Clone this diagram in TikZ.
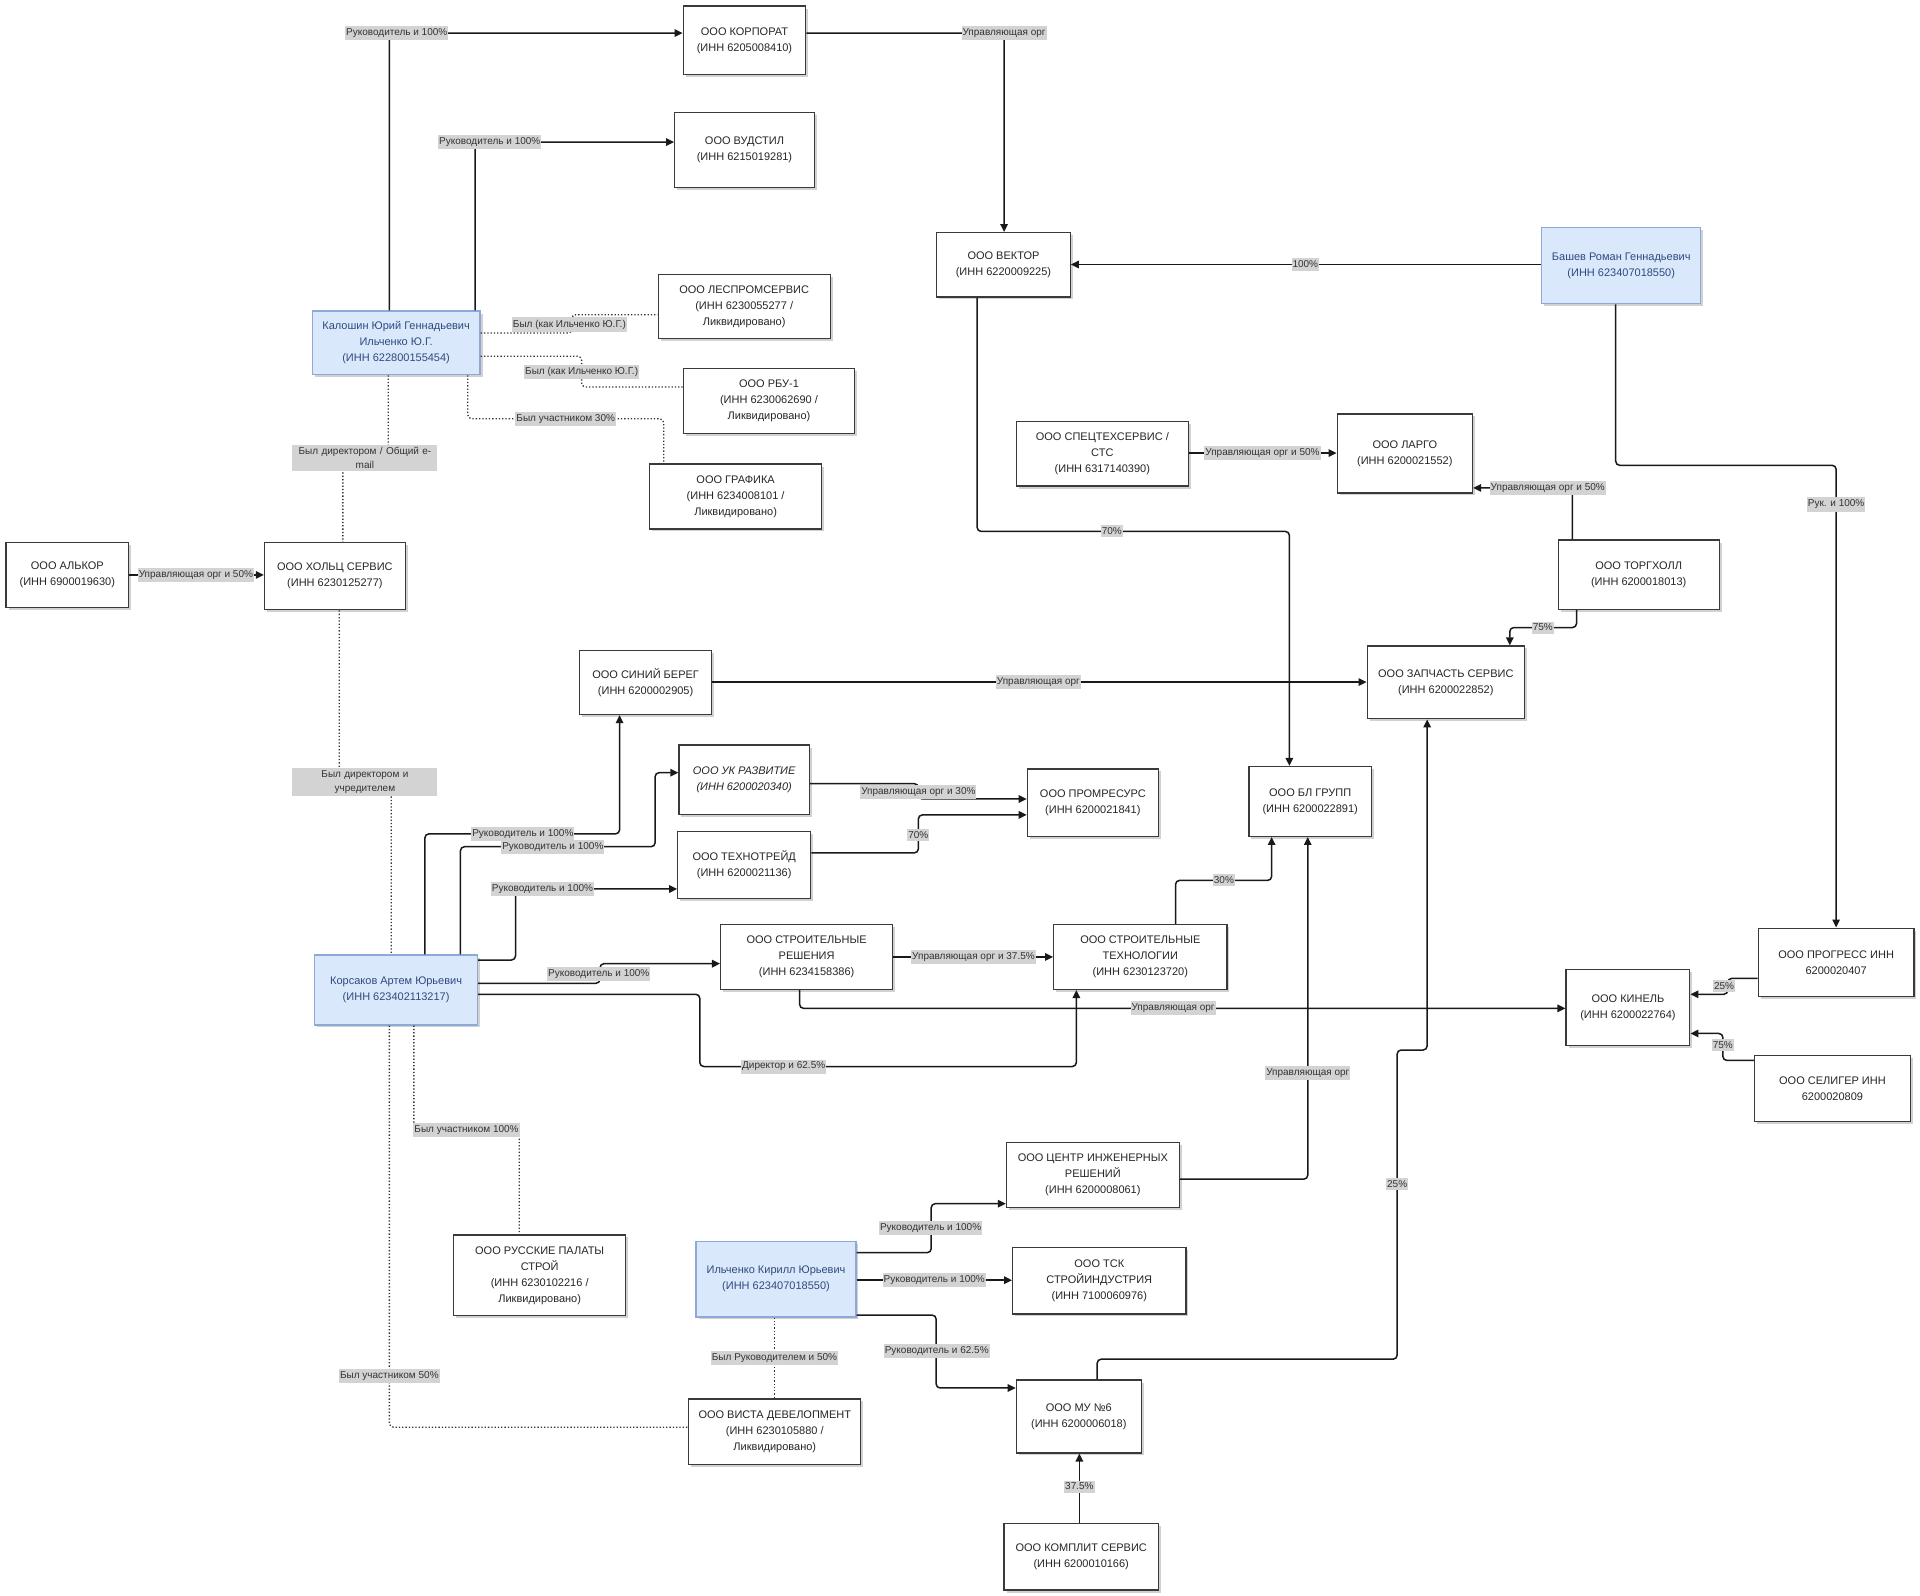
\documentclass[tikz,border=0pt]{standalone}
\usepackage{fontspec}
\setmainfont{Liberation Sans}
\usetikzlibrary{arrows.meta,shadows}
\definecolor{bord}{HTML}{3A3A3A}
\definecolor{pfill}{HTML}{DAE8FC}
\definecolor{pdraw}{HTML}{8EA9D6}
\definecolor{ptext}{HTML}{2E4A7D}
\definecolor{lblg}{HTML}{D3D3D3}
\def\sc{1.2245pt}
\newcommand\orgnode[7][org]{\node[#1, minimum width={(#5-#3)*\sc}, minimum height={(#6-#4)*\sc}] (#2) at ({(#3+#5)/2},{(#4+#6)/2}) {#7};}
\tikzset{
 org/.style={draw=bord, fill=white, line width=1.3pt, align=center, font=\fontsize{11}{16}\selectfont, text=black!85, inner sep=2pt, drop shadow={shadow xshift=2.5pt, shadow yshift=-2.5pt, opacity=0.18, fill=black}},
 orgit/.style={org, font=\fontsize{11}{16}\selectfont\itshape},
 person/.style={org, fill=pfill, draw=pdraw, text=ptext},
 con/.style={draw=black!90, line width=1.5pt, rounded corners=4pt, -{Triangle[length=8pt,width=7.5pt]}},
 dotl/.style={draw=black!80, line width=1.3pt, dotted, rounded corners=4pt},
 lbl/.style={fill=lblg, text=black!80, font=\fontsize{10}{14}\selectfont, inner xsep=1pt, inner ysep=2.5pt, align=center},
}
\begin{document}
\begin{tikzpicture}[x=1.2245pt, y=-1.2245pt]
\useasboundingbox (0,0) rectangle (1568,1303.4);
\fill[white] (0,0) rectangle (1568,1303.4);
% nodes
\orgnode{korp}{558}{5}{658}{61}{ООО КОРПОРАТ\\(ИНН 6205008410)}
\orgnode{vud}{551}{92}{665}{153}{ООО ВУДСТИЛ\\(ИНН 6215019281)}
\orgnode{vec}{765}{190}{874}{242.5}{ООО ВЕКТОР\\(ИНН 6220009225)}
\orgnode[person]{bash}{1259}{186}{1389}{248}{Башев Роман Геннадьевич\\(ИНН 623407018550)}
\orgnode{les}{537.5}{224}{678}{276.5}{ООО ЛЕСПРОМСЕРВИС\\(ИНН 6230055277 /\\Ликвидировано)}
\orgnode[person]{kal}{255}{254}{392}{306}{Калошин Юрий Геннадьевич\\Ильченко Ю.Г.\\(ИНН 622800155454)}
\orgnode{rbu}{558}{301}{698}{354}{ООО РБУ-1\\(ИНН 6230062690 /\\Ликвидировано)}
\orgnode{graf}{530.5}{379}{671}{432}{ООО ГРАФИКА\\(ИНН 6234008101 /\\Ликвидировано)}
\orgnode{spec}{830}{344}{970.5}{397}{ООО СПЕЦТЕХСЕРВИС /\\СТС\\(ИНН 6317140390)}
\orgnode{lar}{1092}{338}{1202.5}{402.5}{ООО ЛАРГО\\(ИНН 6200021552)}
\orgnode{torg}{1272.5}{441}{1404}{497.5}{ООО ТОРГХОЛЛ\\(ИНН 6200018013)}
\orgnode{alk}{5}{443}{105}{496}{ООО АЛЬКОР\\(ИНН 6900019630)}
\orgnode{holz}{216}{443}{331}{498}{ООО ХОЛЬЦ СЕРВИС\\(ИНН 6230125277)}
\orgnode{sin}{473.5}{531}{581}{583.5}{ООО СИНИЙ БЕРЕГ\\(ИНН 6200002905)}
\orgnode{zap}{1116.5}{527.5}{1245}{587}{ООО ЗАПЧАСТЬ СЕРВИС\\(ИНН 6200022852)}
\orgnode[orgit]{uk}{554.5}{608.5}{661}{665}{ООО УК РАЗВИТИЕ\\(ИНН 6200020340)}
\orgnode{prom}{839}{628}{946}{683}{ООО ПРОМРЕСУРС\\(ИНН 6200021841)}
\orgnode{bl}{1020}{626}{1120}{683}{ООО БЛ ГРУПП\\(ИНН 6200022891)}
\orgnode{tech}{553.5}{679}{662}{734}{ООО ТЕХНОТРЕЙД\\(ИНН 6200021136)}
\orgnode{sr}{588.5}{755}{729}{808}{ООО СТРОИТЕЛЬНЫЕ\\РЕШЕНИЯ\\(ИНН 6234158386)}
\orgnode{st}{860.5}{755}{1002}{808}{ООО СТРОИТЕЛЬНЫЕ\\ТЕХНОЛОГИИ\\(ИНН 6230123720)}
\orgnode[person]{kors}{257}{780}{390}{837}{Корсаков Артем Юрьевич\\(ИНН 623402113217)}
\orgnode{prog}{1436}{758}{1563}{814}{ООО ПРОГРЕСС ИНН\\6200020407}
\orgnode{kin}{1279}{792}{1380}{854}{ООО КИНЕЛЬ\\(ИНН 6200022764)}
\orgnode{sel}{1433}{862}{1560}{916}{ООО СЕЛИГЕР ИНН\\6200020809}
\orgnode{cen}{822}{933}{963}{986}{ООО ЦЕНТР ИНЖЕНЕРНЫХ\\РЕШЕНИЙ\\(ИНН 6200008061)}
\orgnode{rp}{370.5}{1008.5}{511}{1074.5}{ООО РУССКИЕ ПАЛАТЫ\\СТРОЙ\\(ИНН 6230102216 /\\Ликвидировано)}
\orgnode[person]{ik}{568.5}{1014}{699}{1075.5}{Ильченко Кирилл Юрьевич\\(ИНН 623407018550)}
\orgnode{tsk}{827}{1019}{968.5}{1073}{ООО ТСК\\СТРОЙИНДУСТРИЯ\\(ИНН 7100060976)}
\orgnode{vis}{562.5}{1142.5}{703}{1196}{ООО ВИСТА ДЕВЕЛОПМЕНТ\\(ИНН 6230105880 /\\Ликвидировано)}
\orgnode{mu}{830}{1127}{932}{1186.5}{ООО МУ №6\\(ИНН 6200006018)}
\orgnode{kom}{820}{1244}{946}{1298.5}{ООО КОМПЛИТ СЕРВИС\\(ИНН 6200010166)}
% connectors
\draw[con] (kal.north -| 318,0) -- (318,27) -- (korp.west |- 0,27);
\draw[con] (kal.north -| 388,0) -- (388,116) -- (vud.west |- 0,116);
\draw[con] (korp.east |- 0,27) -- (820,27) -- (vec.north -| 820,0);
\draw[con] (bash.west |- 0,216) -- (vec.east |- 0,216);
\draw[dotl] (kal.east |- 0,272) -- (467,272) -- (467,257) -- (les.west |- 0,257);
\draw[dotl] (kal.east |- 0,291) -- (475,291) -- (475,316) -- (rbu.west |- 0,316);
\draw[dotl] (kal.south -| 382,0) -- (382,342) -- (542,342) -- (graf.north -| 542,0);
\draw[dotl] (kal.south -| 317,0) -- (317,374) -- (280,374) -- (holz.north -| 280,0);
\draw[con] (alk.east |- 0,469.5) -- (holz.west |- 0,469.5);
\draw[dotl] (holz.south -| 277,0) -- (277,638) -- (319.5,638) -- (kors.north -| 319.5,0);
\draw[con] (sin.east |- 0,557) -- (zap.west |- 0,557);
\draw[con] (vec.south -| 798,0) -- (798,434) -- (1053,434) -- (bl.north -| 1053,0);
\draw[con] (spec.east |- 0,370) -- (lar.west |- 0,370);
\draw[con] (torg.north -| 1284,0) -- (1284,398.5) -- (lar.east |- 0,398.5);
\draw[con] (torg.south -| 1287.5,0) -- (1287.5,512.5) -- (1233,512.5) -- (zap.north -| 1233,0);
\draw[con] (bash.south -| 1319.5,0) -- (1319.5,380) -- (1499.5,380) -- (prog.north -| 1499.5,0);
\draw[con] (kors.north -| 347,0) -- (347,681) -- (506,681) -- (sin.south -| 506,0);
\draw[con] (kors.north -| 376,0) -- (376,691.5) -- (535,691.5) -- (535,631) -- (uk.west |- 0,631);
\draw[con] (kors.east |- 0,784) -- (421,784) -- (421,726) -- (tech.west |- 0,726);
\draw[con] (kors.east |- 0,803) -- (490,803) -- (490,787) -- (sr.west |- 0,787);
\draw[con] (kors.east |- 0,812) -- (571.5,812) -- (571.5,871) -- (879,871) -- (st.south -| 879,0);
\draw[con] (uk.east |- 0,640) -- (750,640) -- (750,652.5) -- (prom.west |- 0,652.5);
\draw[con] (tech.east |- 0,696.5) -- (750,696.5) -- (750,665.5) -- (prom.west |- 0,665.5);
\draw[con] (sr.east |- 0,781.5) -- (st.west |- 0,781.5);
\draw[con] (sr.south -| 653,0) -- (653,823.5) -- (kin.west |- 0,823.5);
\draw[con] (st.north -| 960,0) -- (960,719) -- (1038.5,719) -- (bl.south -| 1038.5,0);
\draw[con] (cen.east |- 0,963) -- (1068,963) -- (bl.south -| 1068,0);
\draw[con] (mu.north -| 896,0) -- (896,1110) -- (1141,1110) -- (1141,857.5) -- (1165.5,857.5) -- (zap.south -| 1165.5,0);
\draw[con] (prog.west |- 0,799) -- (1411,799) -- (1411,812) -- (kin.east |- 0,812);
\draw[con] (sel.west |- 0,866) -- (1407,866) -- (1407,844) -- (kin.east |- 0,844);
\draw[dotl] (kors.south -| 338,0) -- (338,923) -- (424,923) -- (rp.north -| 424,0);
\draw[dotl] (kors.south -| 318,0) -- (318,1165.5) -- (vis.west |- 0,1165.5);
\draw[con] (ik.east |- 0,1023) -- (760.5,1023) -- (760.5,983) -- (cen.west |- 0,983);
\draw[con] (ik.east |- 0,1045.5) -- (tsk.west |- 0,1045.5);
\draw[con] (ik.east |- 0,1074) -- (764.5,1074) -- (764.5,1133.5) -- (mu.west |- 0,1133.5);
\draw[dotl] (ik.south -| 632.5,0) -- (vis.north -| 632.5,0);
\draw[con] (kom.north -| 881.5,0) -- (mu.south -| 881.5,0);
% labels
\node[lbl] (l1) at (324,27) {Руководитель и 100\%};
\node[lbl] (l2) at (400,116) {Руководитель и 100\%};
\node[lbl] (l3) at (820,27) {Управляющая орг};
\node[lbl] (l4) at (1066,216) {100\%};
\node[lbl] (l5) at (465,265) {Был (как Ильченко Ю.Г.)};
\node[lbl] (l6) at (475,304) {Был (как Ильченко Ю.Г.)};
\node[lbl] (l7) at (462,342) {Был участником 30\%};
\node[lbl, text width=143pt] (l8) at (298,374) {Был директором / Общий e-\\mail};
\node[lbl] (l9) at (160,469.5) {Управляющая орг и 50\%};
\node[lbl, text width=143pt] (l10) at (298,638.5) {Был директором и\\учредителем};
\node[lbl] (l11) at (848,557) {Управляющая орг};
\node[lbl] (l12) at (908,434) {70\%};
\node[lbl] (l13) at (1031,370) {Управляющая орг и 50\%};
\node[lbl] (l14) at (1264,398.5) {Управляющая орг и 50\%};
\node[lbl] (l15) at (1260,512.5) {75\%};
\node[lbl] (l16) at (1499.5,412) {Рук. и 100\%};
\node[lbl] (l17) at (427,681) {Руководитель и 100\%};
\node[lbl] (l18) at (451.5,691.5) {Руководитель и 100\%};
\node[lbl] (l19) at (443,726) {Руководитель и 100\%};
\node[lbl] (l20) at (489,795.5) {Руководитель и 100\%};
\node[lbl] (l21) at (640,871) {Директор и 62.5\%};
\node[lbl] (l22) at (750,646.5) {Управляющая орг и 30\%};
\node[lbl] (l23) at (750,682) {70\%};
\node[lbl] (l24) at (795,781.5) {Управляющая орг и 37.5\%};
\node[lbl] (l25) at (958,823.5) {Управляющая орг};
\node[lbl] (l26) at (999.5,719) {30\%};
\node[lbl] (l27) at (1068,876) {Управляющая орг};
\node[lbl] (l28) at (1141,967) {25\%};
\node[lbl] (l29) at (1408,805) {25\%};
\node[lbl] (l30) at (1407,853.5) {75\%};
\node[lbl] (l31) at (381,923) {Был участником 100\%};
\node[lbl] (l32) at (318,1124) {Был участником 50\%};
\node[lbl] (l33) at (760,1003) {Руководитель и 100\%};
\node[lbl] (l34) at (763,1045.5) {Руководитель и 100\%};
\node[lbl] (l35) at (765,1103) {Руководитель и 62.5\%};
\node[lbl] (l36) at (632.5,1109) {Был Руководителем и 50\%};
\node[lbl] (l37) at (881.5,1214) {37.5\%};
\end{tikzpicture}
\end{document}
